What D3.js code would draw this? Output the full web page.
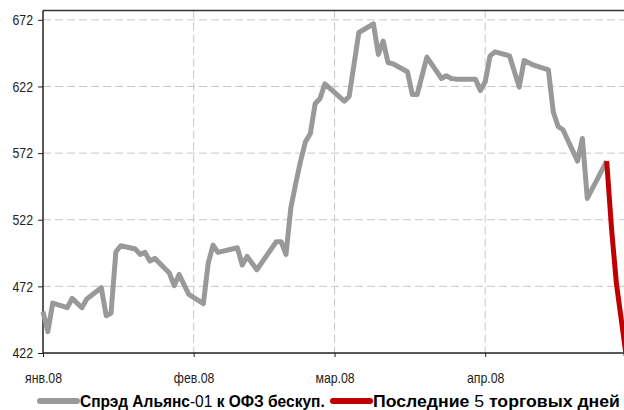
<!DOCTYPE html>
<html>
<head>
<meta charset="utf-8">
<script src="https://cdn.jsdelivr.net/npm/d3@7"></script>
<style>
  body { margin: 0; background: #fff; }
  svg { display: block; font-family: "Liberation Sans", Arial, sans-serif; }
</style>
</head>
<body>
<svg id="chart" width="624" height="410"></svg>
<script>
'use strict';

// spread series (bp), trading days 2008
var spreadDates = [
  '2008-01-01', '2008-01-02', '2008-01-03', '2008-01-06', '2008-01-07', '2008-01-09',
  '2008-01-10', '2008-01-13', '2008-01-14', '2008-01-15', '2008-01-16', '2008-01-17',
  '2008-01-20', '2008-01-21', '2008-01-22', '2008-01-23', '2008-01-24', '2008-01-27',
  '2008-01-28', '2008-01-29', '2008-01-31', '2008-02-03', '2008-02-04', '2008-02-05',
  '2008-02-06', '2008-02-10', '2008-02-11', '2008-02-12', '2008-02-14', '2008-02-18',
  '2008-02-19', '2008-02-20', '2008-02-21', '2008-02-22', '2008-02-23', '2008-02-24',
  '2008-02-25', '2008-02-26', '2008-02-27', '2008-02-28', '2008-03-03', '2008-03-04',
  '2008-03-06', '2008-03-09', '2008-03-10', '2008-03-11', '2008-03-12', '2008-03-13',
  '2008-03-16', '2008-03-17', '2008-03-18', '2008-03-20', '2008-03-23', '2008-03-24',
  '2008-03-25', '2008-03-26', '2008-03-27', '2008-03-28', '2008-03-30', '2008-03-31',
  '2008-04-01', '2008-04-02', '2008-04-03', '2008-04-06', '2008-04-08', '2008-04-09',
  '2008-04-11', '2008-04-14', '2008-04-15', '2008-04-16', '2008-04-17', '2008-04-20',
  '2008-04-21', '2008-04-22', '2008-04-26'
];
var spreadValues = [
  453, 438, 459.5, 456, 463, 456,
  462.5, 471, 450, 452, 498, 502.5,
  500, 496, 497.5, 491, 493, 482,
  472.5, 481, 466, 459, 489.5, 503,
  497.5, 501, 488, 494.5, 484.5, 505.5,
  505.5, 496, 531, 549, 566, 580.5,
  586.5, 609, 613, 624, 611, 614.5,
  662.5, 669, 646, 656, 640, 639,
  633, 616, 616, 644, 628, 630,
  628, 627.5, 627.5, 627.5, 627.5, 619,
  625.5, 645, 648, 645, 621.5, 641.5,
  638, 634.5, 603, 592, 589.5, 566,
  583, 538, 566
];

// last 5 trading days
var lastDates = ['2008-04-26', '2008-04-27', '2008-04-28', '2008-04-29', '2008-04-30'];
var lastValues = [566, 515, 474, 447, 420];

var yTicks = [422, 472, 522, 572, 622, 672];
var monthTicks = ['2008-01-01', '2008-02-01', '2008-03-01', '2008-04-01'];
var monthLabels = ['янв.08', 'фев.08', 'мар.08', 'апр.08'];

var legendNames = ['Спрэд Альянс-01 к ОФЗ бескуп.', 'Последние 5 торговых дней'];
var legendColors = ['#999999', '#c00000'];

var MARGIN = { TOP: 10.5, LEFT: 43, BOTTOM: 353 };
var X_END = 631; // plot runs past the right edge of the picture

var parse = d3.timeParse('%Y-%m-%d');

var spread = spreadDates.map(function(d, i) { return { date: parse(d), value: spreadValues[i] }; });
var last = lastDates.map(function(d, i) { return { date: parse(d), value: lastValues[i] }; });

var x = d3.scaleTime()
  .domain([parse('2008-01-01'), parse('2008-05-01')])
  .range([MARGIN.LEFT, X_END]);

var y = d3.scaleLinear()
  .domain([422, 679])
  .range([MARGIN.BOTTOM, MARGIN.TOP]);

var svg = d3.select('#chart');

// squeeze text to look like a narrow face (no narrow font installed)
function condense(sel, k) {
  sel.each(function() {
    var w = this.getComputedTextLength();
    d3.select(this)
      .attr('textLength', w * k)
      .attr('lengthAdjust', 'spacingAndGlyphs');
  });
}

// grid
svg.append('g')
  .selectAll('line')
  .data(yTicks.slice(1))
  .enter()
  .append('line')
  .attr('x1', MARGIN.LEFT)
  .attr('x2', X_END)
  .attr('y1', function(d) { return y(d); })
  .attr('y2', function(d) { return y(d); })
  .attr('stroke', '#c8c8c8')
  .attr('stroke-width', 1)
  .attr('stroke-dasharray', '8,4');

svg.append('g')
  .selectAll('line')
  .data(monthTicks.slice(1).map(parse))
  .enter()
  .append('line')
  .attr('x1', function(d) { return x(d); })
  .attr('x2', function(d) { return x(d); })
  .attr('y1', MARGIN.TOP)
  .attr('y2', MARGIN.BOTTOM)
  .attr('stroke', '#c8c8c8')
  .attr('stroke-width', 1)
  .attr('stroke-dasharray', '8,4');

// frame top
svg.append('line')
  .attr('x1', MARGIN.LEFT)
  .attr('x2', X_END)
  .attr('y1', MARGIN.TOP)
  .attr('y2', MARGIN.TOP)
  .attr('stroke', '#333')
  .attr('stroke-width', 1.5);

// axes
var yAxis = d3.axisLeft(y)
  .tickValues(yTicks)
  .tickSize(5)
  .tickPadding(5)
  .tickSizeOuter(0);

var gy = svg.append('g')
  .attr('transform', 'translate(' + MARGIN.LEFT + ',0)')
  .call(yAxis);

var xAxis = d3.axisBottom(x)
  .tickValues(monthTicks.map(parse))
  .tickFormat(function(d, i) { return monthLabels[i]; })
  .tickSize(4)
  .tickPadding(15)
  .tickSizeOuter(0);

var gx = svg.append('g')
  .attr('transform', 'translate(0,' + MARGIN.BOTTOM + ')')
  .call(xAxis);

[gx, gy].forEach(function(g) {
  g.select('.domain').attr('stroke', '#222').attr('stroke-width', 1.5);
  g.selectAll('.tick line').attr('stroke', '#222');
  g.selectAll('.tick text')
    .attr('fill', '#222')
    .style('font-size', '15px')
    .style('font-family', null)
    .call(condense, 0.82);
});
gy.select('.domain').attr('d', 'M0,' + MARGIN.TOP + 'V' + MARGIN.BOTTOM);
gx.select('.domain').attr('d', 'M' + MARGIN.LEFT + ',0H' + X_END);

// lines
var line = d3.line()
  .x(function(d) { return x(d.date); })
  .y(function(d) { return y(d.value); });

svg.append('path')
  .datum(spread)
  .attr('d', line)
  .attr('fill', 'none')
  .attr('stroke', legendColors[0])
  .attr('stroke-width', 5)
  .attr('stroke-linejoin', 'round');

svg.append('path')
  .datum(last)
  .attr('d', line)
  .attr('fill', 'none')
  .attr('stroke', legendColors[1])
  .attr('stroke-width', 5)
  .attr('stroke-linejoin', 'round');

// legend; digits come out in regular weight as in the original
var legendX = [40, 333];
var legendW = [245, 247];
var legend = svg.append('g');

legendNames.forEach(function(name, i) {
  legend.append('line')
    .attr('x1', legendX[i])
    .attr('x2', legendX[i] + 37)
    .attr('y1', 401)
    .attr('y2', 401)
    .attr('stroke', legendColors[i])
    .attr('stroke-width', 6)
    .attr('stroke-linecap', 'round');

  var g = legend.append('g');
  var t = g.append('text')
    .attr('fill', '#000')
    .style('font-size', '16.5px');

  name.split(/(-?\d+)/).forEach(function(part) {
    if (!part) return;
    t.append('tspan')
      .attr('font-weight', /\d/.test(part) ? 'normal' : 'bold')
      .text(part);
  });

  var k = legendW[i] / t.node().getComputedTextLength();
  g.attr('transform', 'translate(' + (legendX[i] + 40) + ',406.5) scale(' + k + ',1)');
});
</script>
</body>
</html>
